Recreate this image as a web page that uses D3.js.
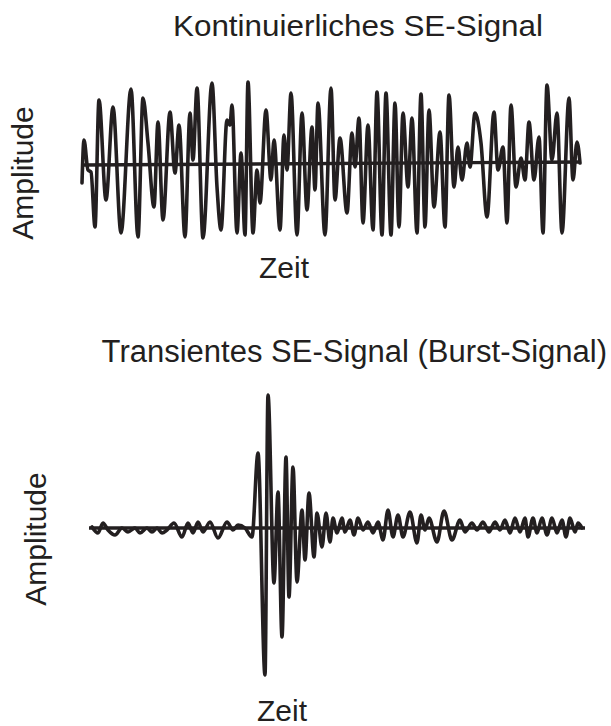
<!DOCTYPE html>
<html>
<head>
<meta charset="utf-8">
<script src="https://cdn.jsdelivr.net/npm/d3@7"></script>
<style>
  html, body { margin: 0; padding: 0; background: #fff; }
  svg { display: block; }
  text { font-family: "Liberation Sans", Arial, Helvetica, sans-serif; fill: #231f20; }
</style>
</head>
<body>
<svg id="chart" width="611" height="726"></svg>
<script>
// Continuous AE signal: time (arbitrary units) and amplitude at each extremum
const contTime = [0,2,6,9,13,17,24,31,39,49,56,61,66,72,76,81,88,93,97,103,108,111,115,121,130,135,139,145,148,150,155,159,163,166,171,175,178,184,189,192,198,202,205,209,215,220,225,230,233,236,243,249,253,258,265,270,273,277,281,286,291,295,300,304,309,313,317,321,326,330,335,339,343,347,352,358,363,367,372,376,380,385,388,393,399,405,412,416,421,425,429,434,439,443,447,452,457,461,465,470,475,480,487,491,495,498];
const contAmp  = [-18,25,-5,-7,-62,65,-35,58,-68,76,-72,67,22,-42,43,-55,53,-8,40,-72,52,5,77,-73,82,-22,-65,45,40,60,-68,12,-70,83,-68,-5,-38,55,-15,25,-65,30,-5,72,-70,52,-45,38,-25,62,-70,77,-35,27,-48,32,-2,47,-58,40,-65,73,-70,72,-70,62,-62,52,-22,47,-68,71,-62,55,-42,33,-62,70,-22,18,-15,22,-2,52,22,-52,53,-5,18,-58,60,-22,7,-15,43,-15,28,-68,80,5,52,-68,67,-15,23,2];

// Transient (burst) AE signal
const burstTime = [0,6,11,16,23,30,36,43,48,55,60,65,70,75,82,90,96,101,106,111,118,126,135,141,146,153,160,166,173,176,182,186,190,194,197,201,205,210,213,217,222,225,230,234,238,241,245,250,253,258,262,266,271,276,281,286,291,296,301,306,311,318,325,329,333,337,345,352,360,368,373,380,385,391,397,403,408,413,418,423,428,433,436,441,445,450,455,460,465,470,474,478,483,486,490];
const burstAmp  = [1,-5,5,-2,-7,0,-4,0,-5,0,-4,0,-5,-2,5,-9,5,-5,6,-4,6,-10,6,-2,3,0,-9,75,-147,133,-55,36,-109,71,-69,61,-54,18,-32,35,-29,15,-19,15,-14,10,-5,10,-4,8,-7,10,-2,6,-5,6,-12,18,-9,13,-9,16,-15,13,-2,10,-14,17,-12,8,-4,5,-2,6,-4,6,-2,8,-5,10,-4,10,-9,10,-5,10,-7,10,-5,8,-9,10,-4,5,0];

// Zero lines (start and end amplitude) drawn through each trace
const contZero = [0, 3];
const burstZero = [0, 0];

const titles = ["Kontinuierliches SE-Signal", "Transientes SE-Signal (Burst-Signal)"];
const yLabel = "Amplitude";
const xLabel = "Zeit";

const svg = d3.select("#chart");
const ink = "#231f20";

function panel(cfg) {
  const x = d3.scaleLinear().domain([0, 500]).range(cfg.xRange);
  const y = d3.scaleLinear().domain([-100, 100]).range([cfg.base + 100, cfg.base - 100]);
  const g = svg.append("g");

  const pts = cfg.time.map((t, i) => [t, cfg.amp[i]]);
  const line = d3.line()
    .x(d => x(d[0]))
    .y(d => y(d[1]))
    .curve(d3.curveMonotoneX);

  // zero line
  g.append("line")
    .attr("x1", x(cfg.zeroDomain[0])).attr("x2", x(cfg.zeroDomain[1]))
    .attr("y1", y(cfg.zero[0])).attr("y2", y(cfg.zero[1]))
    .attr("stroke", ink).attr("stroke-width", 3.4);

  g.append("path")
    .datum(pts)
    .attr("d", line)
    .attr("fill", "none")
    .attr("stroke", ink)
    .attr("stroke-width", 3.6)
    .attr("stroke-linejoin", "round")
    .attr("stroke-linecap", "round");
}

panel({ time: contTime, amp: contAmp, xRange: [82, 582], base: 165,
        zero: contZero, zeroDomain: [1, 498] });
panel({ time: burstTime, amp: burstAmp, xRange: [92, 592], base: 528,
        zero: burstZero, zeroDomain: [-3, 493] });

// titles
svg.append("text").attr("x", 173).attr("y", 36)
  .attr("font-size", 30).attr("textLength", 370).attr("lengthAdjust", "spacingAndGlyphs")
  .text(titles[0]);
svg.append("text").attr("x", 607).attr("y", 362).attr("text-anchor", "end")
  .attr("font-size", 31)
  .text(titles[1]);

// axis labels
svg.append("text").attr("transform", "translate(33,173) rotate(-90)")
  .attr("text-anchor", "middle").attr("font-size", 30).text(yLabel);
svg.append("text").attr("transform", "translate(46,539) rotate(-90)")
  .attr("text-anchor", "middle").attr("font-size", 30).text(yLabel);
svg.append("text").attr("x", 284).attr("y", 278)
  .attr("text-anchor", "middle").attr("font-size", 30).text(xLabel);
svg.append("text").attr("x", 282).attr("y", 721)
  .attr("text-anchor", "middle").attr("font-size", 30).text(xLabel);
</script>
</body>
</html>
